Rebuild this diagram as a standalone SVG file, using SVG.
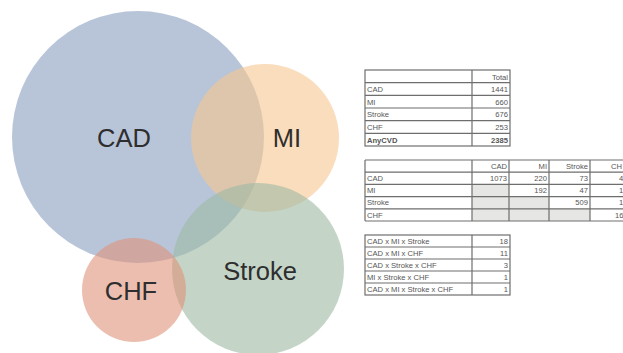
<svg xmlns="http://www.w3.org/2000/svg" width="623" height="353" viewBox="0 0 623 353">
<style>
.c{fill-opacity:0.6}
.vl{font-family:"Liberation Sans",Arial,sans-serif;font-size:25.5px;fill:#2e2e2e;text-anchor:middle}
.t{font-family:"Liberation Sans",Arial,sans-serif;font-size:7.6px;fill:#555}
.r{text-anchor:end}
.b{font-weight:bold}
.g{fill:#fff;stroke:#6e6e6e;stroke-width:1.2}
.gy{fill:#e6e6e4;stroke:none}
.ln{stroke:#6e6e6e;stroke-width:1.2;fill:none}
</style>
<rect width="623" height="353" fill="#fff"/>
<g id="venn">
<g id="CAD"><circle class="c" cx="138" cy="137" r="126" fill="#899ec0"/><text class="vl" x="124" y="147">CAD</text></g>
<g id="MI"><circle class="c" cx="265" cy="138" r="74" fill="#f7c68f"/><text class="vl" x="287" y="147">MI</text></g>
<g id="Stroke"><circle class="c" cx="258" cy="269" r="86" fill="#9db9a3"/><text class="vl" x="260" y="280">Stroke</text></g>
<g id="CHF"><circle class="c" cx="134" cy="290" r="52" fill="#df937a"/><text class="vl" x="131" y="300">CHF</text></g>
</g>
<g id="table1">
<rect class="g" x="365" y="70" width="145" height="76"/>
<path class="ln" d="M472 70V146M365 82.7H510M365 95.3H510M365 108H510M365 120.7H510M365 133.3H510"/>
<text class="t r" x="508" y="79.5">Total</text>
<text class="t" x="367" y="92">CAD</text><text class="t r" x="508" y="92">1441</text>
<text class="t" x="367" y="104.5">MI</text><text class="t r" x="508" y="104.5">660</text>
<text class="t" x="367" y="117">Stroke</text><text class="t r" x="508" y="117">676</text>
<text class="t" x="367" y="130">CHF</text><text class="t r" x="508" y="130">253</text>
<text class="t b" x="367" y="142.5">AnyCVD</text><text class="t r b" x="508" y="142.5">2385</text>
</g>
<g id="table2">
<rect class="gy" x="472" y="184.4" width="37" height="36.6"/>
<rect class="gy" x="509" y="196.6" width="40" height="24.4"/>
<rect class="gy" x="549" y="208.8" width="41" height="12.2"/>
<path class="ln" d="M365 160H625M365 221H625M365 160V221M472 160V221M509 160V221M549 160V221M590 160V221M365 172.2H625M365 184.4H625M365 196.6H625M365 208.8H625"/>
<text class="t r" x="507" y="168.8">CAD</text><text class="t r" x="547" y="168.8">MI</text><text class="t r" x="588" y="168.8">Stroke</text><text class="t" x="611" y="168.8">CH</text>
<text class="t" x="367" y="181">CAD</text><text class="t r" x="507" y="181">1073</text><text class="t r" x="547" y="181">220</text><text class="t r" x="588" y="181">73</text><text class="t" x="619" y="181">4</text>
<text class="t" x="367" y="193.2">MI</text><text class="t r" x="547" y="193.2">192</text><text class="t r" x="588" y="193.2">47</text><text class="t" x="619" y="193.2">1</text>
<text class="t" x="367" y="205.4">Stroke</text><text class="t r" x="588" y="205.4">509</text><text class="t" x="619" y="205.4">1</text>
<text class="t" x="367" y="217.6">CHF</text><text class="t" x="615" y="217.6">16</text>
</g>
<g id="table3">
<rect class="g" x="365" y="235" width="145" height="60"/>
<path class="ln" d="M472 235V295M365 247H510M365 259H510M365 271H510M365 283H510"/>
<text class="t" x="367" y="243.7">CAD x MI x Stroke</text><text class="t r" x="508" y="243.7">18</text>
<text class="t" x="367" y="255.7">CAD x MI x CHF</text><text class="t r" x="508" y="255.7">11</text>
<text class="t" x="367" y="267.7">CAD x Stroke x CHF</text><text class="t r" x="508" y="267.7">3</text>
<text class="t" x="367" y="279.7">MI x Stroke x CHF</text><text class="t r" x="508" y="279.7">1</text>
<text class="t" x="367" y="291.7">CAD x MI x Stroke x CHF</text><text class="t r" x="508" y="291.7">1</text>
</g>
</svg>
